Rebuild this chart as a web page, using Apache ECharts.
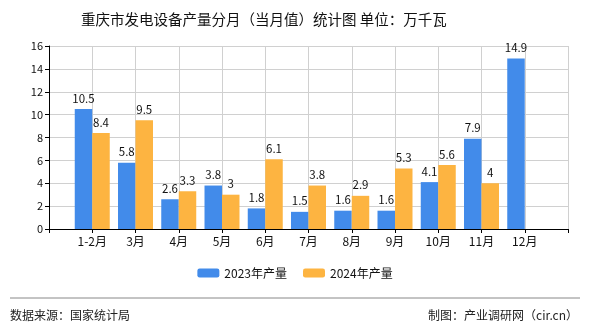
<!DOCTYPE html>
<html><head><meta charset="utf-8">
<script src="https://cdn.jsdelivr.net/npm/echarts@6/dist/echarts.min.js"></script>
<style>html,body{margin:0;padding:0;background:#fff}#c{width:590px;height:330px}</style>
</head><body><div id="c"></div>
<script>
const categories = ['', '1-2月', '3月', '4月', '5月', '6月', '7月', '8月', '9月', '10月', '11月', '12月', ''];
const values2023 = [null, 10.5, 5.8, 2.6, 3.8, 1.8, 1.5, 1.6, 1.6, 4.1, 7.9, 14.9, null];
const values2024 = [null, 8.4, 9.5, 3.3, 3, 6.1, 3.8, 2.9, 5.3, 5.6, 4, null, null];
const yTicks = [0, 2, 4, 6, 8, 10, 12, 14, 16];
const titleText = '重庆市发电设备产量分月（当月值）统计图 单位：万千瓦';
const seriesNames = ['2023年产量', '2024年产量'];

const font = '"Noto Sans CJK SC", "DejaVu Sans", sans-serif';
const chart = echarts.init(document.getElementById('c'), null, {renderer: 'canvas'});
chart.setOption({
  animation: false,
  title: {text: titleText, left: 76, top: 7, textStyle: {fontSize: 14.5, fontWeight: 'normal', color: '#111', fontFamily: font}},
  grid: {left: 49, right: 22, top: 46, bottom: 101},
  legend: {
    bottom: 46, left: 'center', itemWidth: 22, itemHeight: 9, itemGap: 16,
    textStyle: {fontSize: 12, color: '#111', fontFamily: font},
    data: seriesNames
  },
  xAxis: {
    type: 'category', data: categories, boundaryGap: false,
    axisLine: {lineStyle: {color: '#000', width: 1}},
    axisTick: {show: true, length: 4, lineStyle: {color: '#000'}},
    axisLabel: {fontSize: 12, color: '#111', fontFamily: font, margin: 6, interval: 0},
    splitLine: {show: true, lineStyle: {color: '#d0d0d0'}}
  },
  yAxis: {
    type: 'value', min: yTicks[0], max: yTicks[yTicks.length - 1], interval: 2,
    axisLine: {show: true, lineStyle: {color: '#000'}},
    axisTick: {show: true, length: 4, lineStyle: {color: '#000'}},
    axisLabel: {fontSize: 11, color: '#111', fontFamily: font, margin: 6},
    splitLine: {show: true, lineStyle: {color: '#d0d0d0'}}
  },
  series: [
    {name: seriesNames[0], type: 'bar', data: values2023, barWidth: 17.5, barGap: '0%',
     itemStyle: {color: '#428BEA'},
     label: {show: true, position: 'top', fontSize: 11.5, color: '#111', fontFamily: font, distance: 5}},
    {name: seriesNames[1], type: 'bar', data: values2024, barWidth: 17.5, barGap: '0%',
     itemStyle: {color: '#FDB441'},
     label: {show: true, position: 'top', fontSize: 11.5, color: '#111', fontFamily: font, distance: 5}}
  ],
  graphic: [
    {type: 'line', shape: {x1: 10, y1: 298, x2: 580, y2: 298}, style: {stroke: '#888', lineWidth: 1}},
    {type: 'text', left: 10, top: 309, style: {text: '数据来源：国家统计局', fontSize: 12, fill: '#222', fontFamily: font}},
    {type: 'text', right: 12, top: 309, style: {text: '制图：产业调研网（cir.cn）', fontSize: 12, fill: '#222', fontFamily: font}}
  ]
});
</script></body></html>
